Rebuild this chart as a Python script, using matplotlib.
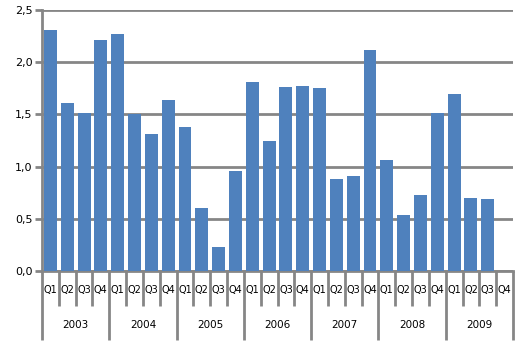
import matplotlib
matplotlib.use("Agg")
import matplotlib.pyplot as plt
import matplotlib.transforms as mtransforms
import numpy as np

years = ["2003", "2004", "2005", "2006", "2007", "2008", "2009"]
quarters = ["Q1", "Q2", "Q3", "Q4"]
values = [2.31, 1.61, 1.51, 2.21,
          2.27, 1.50, 1.31, 1.64,
          1.38, 0.60, 0.23, 0.96,
          1.81, 1.25, 1.76, 1.77,
          1.75, 0.88, 0.91, 2.12,
          1.06, 0.54, 0.73, 1.51,
          1.70, 0.70, 0.69, 0.0]
yticks = [0.0, 0.5, 1.0, 1.5, 2.0, 2.5]
ytick_labels = ["0,0", "0,5", "1,0", "1,5", "2,0", "2,5"]

W, H = 518, 352
fig = plt.figure(figsize=(W / 100, H / 100), dpi=100)
ax = fig.add_axes([42 / W, (H - 271) / H, 471 / W, 261 / H])

grey = "#868686"
n = len(values)
x = np.arange(n)
ax.bar(x, values, width=0.77, color="#4F81BD", zorder=3)

ax.set_xlim(-0.5, n - 0.5)
ax.set_ylim(0, 2.5)
ax.set_yticks(yticks)
ax.set_yticklabels(ytick_labels, fontsize=8)
ax.yaxis.grid(True, color=grey, linewidth=2, zorder=0)
ax.set_xticks([])
for s in ["top", "right"]:
    ax.spines[s].set_visible(False)
for s in ["left", "bottom"]:
    ax.spines[s].set_color(grey)
    ax.spines[s].set_linewidth(2)
ax.tick_params(axis="y", length=5, width=2, color=grey, pad=2)

trans = mtransforms.blended_transform_factory(ax.transData, ax.transAxes)
short_y = -35 / 261
long_y = -69 / 261
q_y = -19 / 261
yr_y = -54 / 261

# quarter labels
for i in range(n):
    ax.text(i, q_y, quarters[i % 4], transform=trans, ha="center", va="center",
            fontsize=7, color="black")
# separators
for b in range(n + 1):
    xb = b - 0.5
    bottom = long_y if b % 4 == 0 else short_y
    ax.plot([xb, xb], [0, bottom], transform=trans, color=grey, linewidth=2,
            clip_on=False, solid_capstyle="butt")
# year labels
for k, yr in enumerate(years):
    ax.text(4 * k + 1.5, yr_y, yr, transform=trans, ha="center", va="center",
            fontsize=7.5, color="black")

fig.savefig("out.png", dpi=100)
